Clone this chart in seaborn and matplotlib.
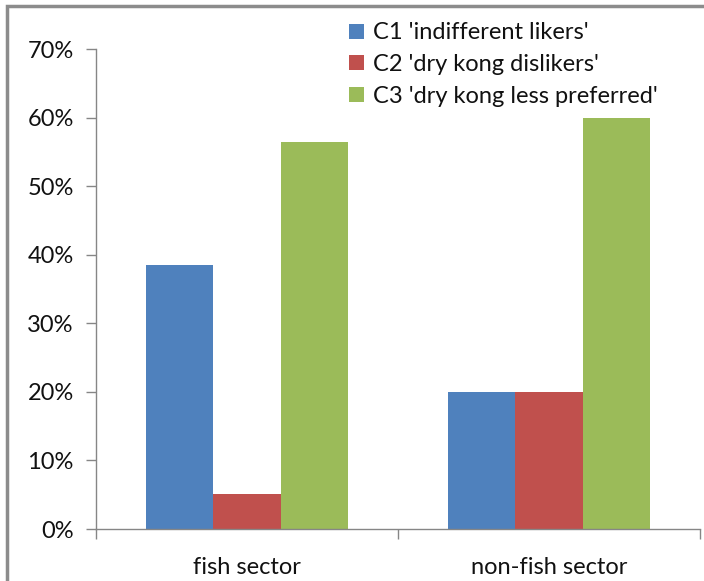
import pandas as pd
import matplotlib.pyplot as plt
import matplotlib.ticker as mticker
from matplotlib.patches import Rectangle
import seaborn as sns

# datos del grafico (porcentaje por sector)
sectors = ['fish sector', 'non-fish sector']
clusters = ["C1 'indifferent likers'", "C2 'dry kong dislikers'", "C3 'dry kong less preferred'"]
c1_values = [38.5, 20.0]
c2_values = [5.1, 20.0]
c3_values = [56.4, 60.0]
colors = ['#4F81BD', '#C0504D', '#9BBB59']

rows = []
for cl, vals in zip(clusters, [c1_values, c2_values, c3_values]):
    for s, v in zip(sectors, vals):
        rows.append({'sector': s, 'cluster': cl, 'pct': v})
df = pd.DataFrame(rows)

sns.set_style('white')
plt.rcParams['font.family'] = ['Lato', 'DejaVu Sans']

fig = plt.figure(figsize=(7.04, 5.81), dpi=100)
ax = fig.add_axes([96 / 704, 1 - 529 / 581, (700 - 96) / 704, (529 - 49) / 581])

sns.barplot(data=df, x='sector', y='pct', hue='cluster', palette=colors,
            width=0.67, saturation=1, linewidth=0, ax=ax, legend=True)

ax.set_ylim(0, 70)
ax.set_xlim(-0.5, 1.5)
ax.yaxis.set_major_locator(mticker.MultipleLocator(10))
ax.yaxis.set_major_formatter(mticker.FuncFormatter(lambda v, p: f'{v:.0f}%'))
ax.set_xlabel('')
ax.set_ylabel('')

for side in ['top', 'right']:
    ax.spines[side].set_visible(False)
for side in ['left', 'bottom']:
    ax.spines[side].set_color('#868686')
    ax.spines[side].set_linewidth(1)

ax.tick_params(axis='y', which='major', direction='out', length=7, width=1,
               color='#868686', left=True, labelsize=17, pad=9, labelcolor='#111111')
ax.tick_params(axis='x', which='major', length=0, labelsize=17, pad=20, labelcolor='#111111')
ax.xaxis.set_minor_locator(mticker.FixedLocator([-0.5, 0.5, 1.5]))
ax.tick_params(axis='x', which='minor', direction='out', length=7, width=1,
               color='#868686', bottom=True)

leg = ax.legend(loc='upper left', bbox_to_anchor=(340 / 704, 1 - 13 / 581),
                bbox_transform=fig.transFigure, frameon=False, fontsize=17,
                handlelength=0.6, handleheight=0.6, handletextpad=0.4,
                labelspacing=0.45, borderaxespad=0)
for t in leg.get_texts():
    t.set_color('#111111')

# marco del grafico
fig.patches.append(Rectangle((7 / 704, -0.1), 1.2, 1 - 6 / 581 + 0.1,
                             transform=fig.transFigure, fill=False,
                             edgecolor='#8c8c8c', linewidth=2.5))

plt.savefig('out.png', dpi=100)
